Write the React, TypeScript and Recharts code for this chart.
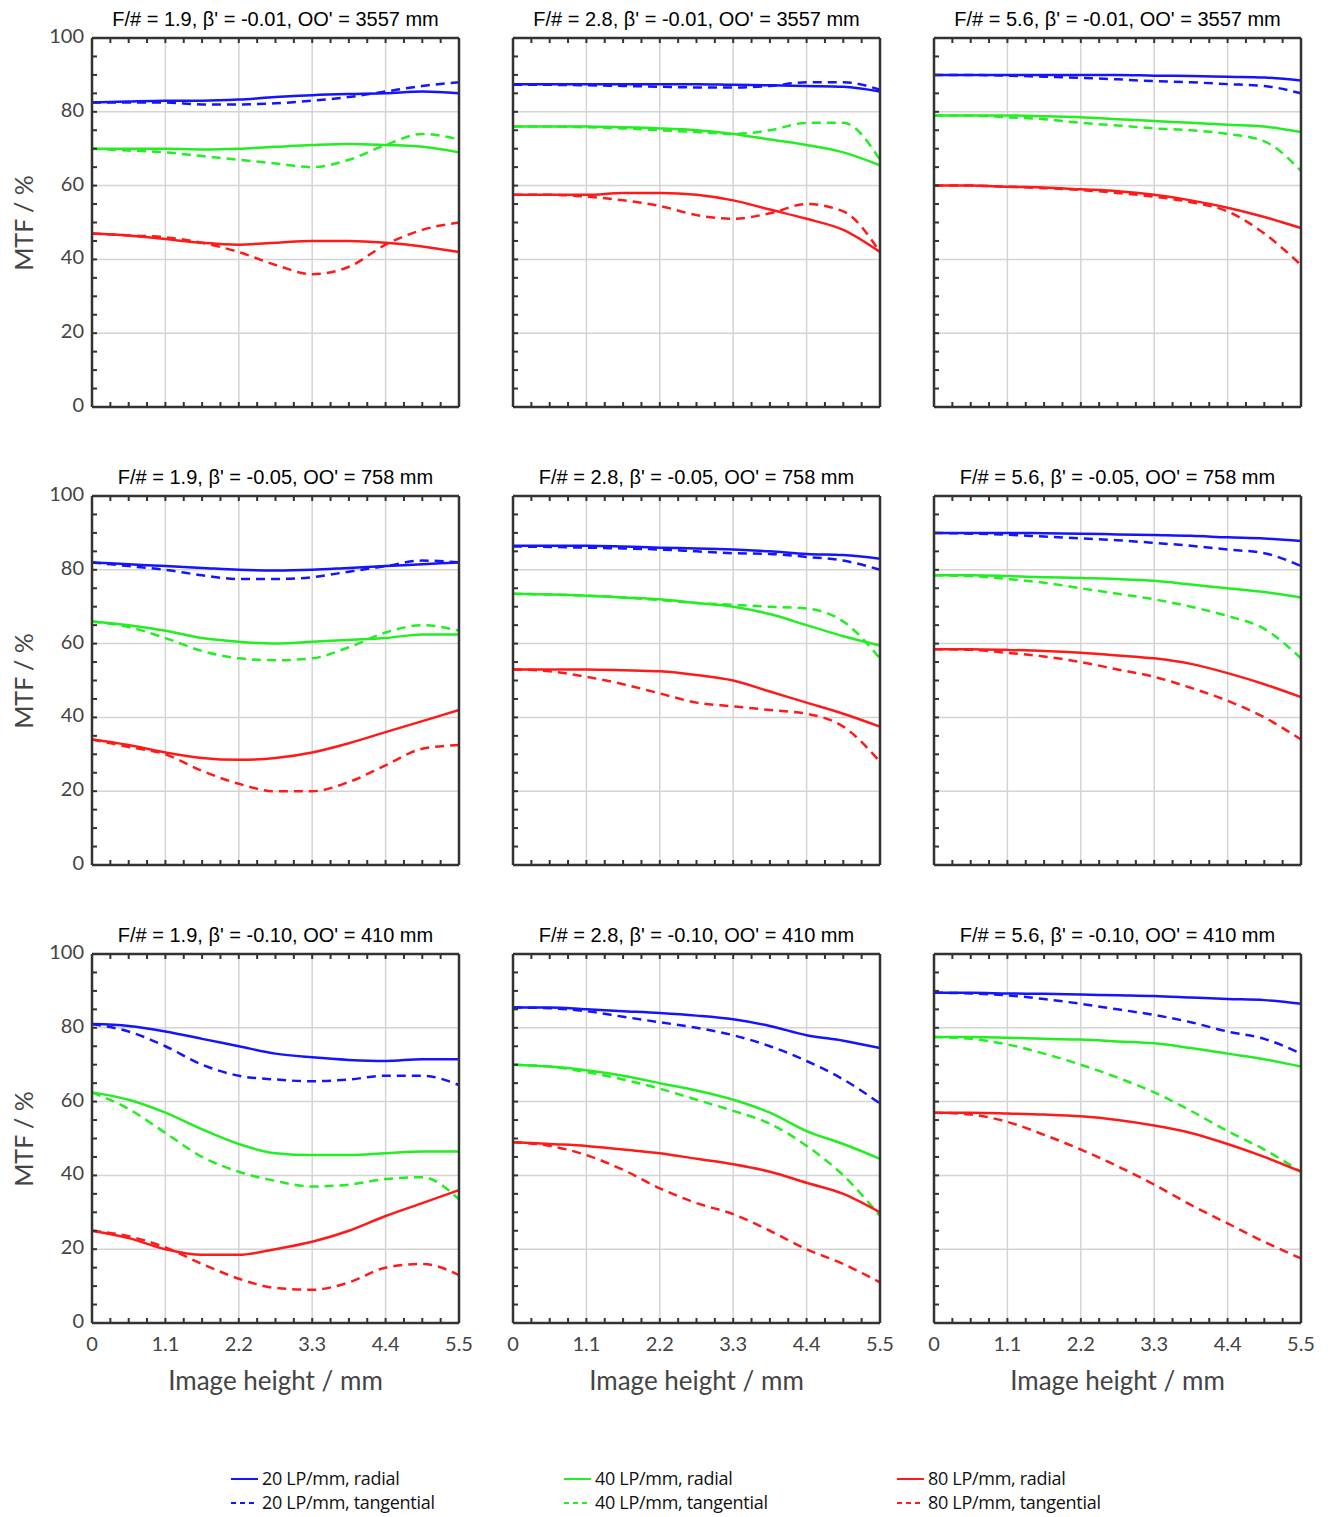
import React from "react";
import { LineChart, Line, XAxis, YAxis, CartesianGrid } from "recharts";

const xs = [0, 0.55, 1.1, 1.65, 2.2, 2.75, 3.3, 3.85, 4.4, 4.95, 5.5];
const xMajor = ["0", "1.1", "2.2", "3.3", "4.4", "5.5"];
const yMajor = ["0", "20", "40", "60", "80", "100"];
const titles = [
  "F/# = 1.9, β' = -0.01, OO' = 3557 mm", "F/# = 2.8, β' = -0.01, OO' = 3557 mm", "F/# = 5.6, β' = -0.01, OO' = 3557 mm",
  "F/# = 1.9, β' = -0.05, OO' = 758 mm", "F/# = 2.8, β' = -0.05, OO' = 758 mm", "F/# = 5.6, β' = -0.05, OO' = 758 mm",
  "F/# = 1.9, β' = -0.10, OO' = 410 mm", "F/# = 2.8, β' = -0.10, OO' = 410 mm", "F/# = 5.6, β' = -0.10, OO' = 410 mm",
];
const seriesNames = ["20 LP/mm, radial", "20 LP/mm, tangential", "40 LP/mm, radial", "40 LP/mm, tangential", "80 LP/mm, radial", "80 LP/mm, tangential"];

// each panel: [blue radial, blue tang, green radial, green tang, red radial, red tang]
const p19_001 = [
  [82.5, 82.8, 83, 83, 83.3, 84, 84.5, 84.8, 85, 85.5, 85],
  [82.5, 82.5, 82.5, 82, 82, 82.3, 83, 84, 85.5, 87, 88],
  [70, 70, 70, 69.8, 70, 70.5, 71, 71.3, 71, 70.5, 69],
  [70, 69.5, 69, 68, 67, 66, 65, 67, 71, 74, 72.5],
  [47, 46.5, 45.5, 44.5, 44, 44.5, 45, 45, 44.5, 43.5, 42],
  [47, 46.5, 46, 44.5, 42, 38.5, 36, 38, 44, 48, 50],
];
const p28_001 = [
  [87.5, 87.5, 87.5, 87.5, 87.5, 87.5, 87.3, 87.2, 87, 86.8, 85.5],
  [87.3, 87.3, 87.2, 87, 86.8, 86.6, 86.6, 87, 88, 88, 86],
  [76, 76, 76, 75.8, 75.5, 75, 74, 72.5, 71, 69, 65.5],
  [76, 76, 75.8, 75.5, 75, 74.5, 74, 75, 77, 77, 67],
  [57.5, 57.5, 57.5, 58, 58, 57.5, 56, 53.5, 51, 48, 42],
  [57.5, 57.5, 57, 56, 54.5, 52, 51, 52.5, 55, 53, 42],
];
const p56_001 = [
  [90, 90, 90, 90, 90, 90, 89.8, 89.7, 89.5, 89.3, 88.5],
  [90, 90, 89.8, 89.5, 89.2, 88.8, 88.3, 88, 87.5, 87, 85],
  [79, 79, 79, 78.8, 78.5, 78, 77.5, 77, 76.5, 76, 74.5],
  [79, 79, 78.5, 78, 77, 76.3, 75.5, 75, 74, 72, 64],
  [60, 60, 59.7, 59.5, 59, 58.5, 57.5, 56, 54, 51.5, 48.5],
  [60, 60, 59.7, 59.3, 58.8, 58, 57, 55.5, 53, 47, 38.5],
];
const p19_005 = [
  [82, 81.5, 81, 80.5, 80, 79.8, 80, 80.5, 81, 81.5, 82],
  [82, 81, 80, 78.5, 77.5, 77.5, 78, 79.5, 81, 82.5, 82],
  [66, 65, 63.5, 61.5, 60.5, 60, 60.5, 61, 61.5, 62.5, 62.5],
  [66, 64.5, 61.5, 58, 56, 55.5, 56, 59, 63, 65, 63.5],
  [34, 32.5, 30.5, 29, 28.5, 29, 30.5, 33, 36, 39, 42],
  [34, 32, 30, 25.5, 22, 20, 20, 22.5, 27, 31.5, 32.5],
];
const p28_005 = [
  [86.5, 86.5, 86.5, 86.3, 86, 85.8, 85.5, 85, 84.3, 84, 83],
  [86.3, 86.2, 86, 85.8, 85.5, 85, 84.5, 84.3, 83.5, 82.5, 80],
  [73.5, 73.3, 73, 72.5, 72, 71, 70, 68, 65, 62, 59.5],
  [73.5, 73.3, 73, 72.5, 71.8, 71, 70.5, 70, 69.5, 66, 56],
  [53, 53, 53, 52.8, 52.5, 51.5, 50, 47, 44, 41, 37.5],
  [53, 52.5, 51, 49, 46.5, 44, 43, 42, 41, 37.5, 28],
];
const p56_005 = [
  [90, 90, 90, 89.9, 89.8, 89.6, 89.4, 89.2, 88.8, 88.5, 87.8],
  [90, 89.8, 89.5, 89, 88.5, 88, 87.3, 86.5, 85.5, 84.5, 81],
  [78.5, 78.5, 78.3, 78, 77.8, 77.5, 77, 76, 75, 74, 72.5],
  [78.5, 78.3, 77.5, 76.5, 75, 73.5, 72, 70, 67.5, 64, 56],
  [58.5, 58.5, 58.3, 58, 57.5, 56.8, 56, 54.5, 52, 49, 45.5],
  [58.5, 58.3, 57.5, 56.5, 55, 53, 51, 48, 44.5, 40, 34],
];
const p19_010 = [
  [81, 80.5, 79, 77, 75, 73, 72, 71.3, 71, 71.5, 71.5],
  [81, 79, 75, 70, 67, 66, 65.5, 66, 67, 67, 64.5],
  [62.5, 60.5, 57, 52.5, 48.5, 46, 45.5, 45.5, 46, 46.5, 46.5],
  [62.5, 58, 51.5, 45, 41, 38.5, 37, 37.5, 39, 39.5, 33.5],
  [25, 23, 20, 18.5, 18.5, 20, 22, 25, 29, 32.5, 36],
  [25, 23.5, 20.5, 16, 12, 9.5, 9, 11, 15, 16, 13],
];
const p28_010 = [
  [85.5, 85.5, 85, 84.5, 84, 83.3, 82.3, 80.5, 78, 76.5, 74.5],
  [85.5, 85.3, 84.5, 83, 81.5, 80, 78, 75, 71, 66, 59.5],
  [70, 69.5, 68.5, 67, 65, 63, 60.5, 57, 52, 48.5, 44.5],
  [70, 69.5, 68, 66, 63.5, 60.5, 57.5, 54, 48, 40, 29],
  [49, 48.5, 48, 47, 46, 44.5, 43, 41, 38, 35, 30],
  [49, 48, 45.5, 41.5, 36.5, 32.5, 29.5, 25, 20, 16, 11],
];
const p56_010 = [
  [89.5, 89.5, 89.3, 89.2, 89, 88.8, 88.6, 88.2, 87.8, 87.5, 86.5],
  [89.5, 89.3, 88.8, 87.8, 86.5, 85, 83.5, 81.5, 79, 77, 73],
  [77.5, 77.5, 77.3, 77, 76.8, 76.3, 75.8, 74.5, 73, 71.5, 69.5],
  [77.5, 77, 75.5, 73, 70, 66.5, 62.5, 57.5, 52, 47, 41],
  [57, 57, 56.8, 56.5, 56, 55, 53.5, 51.5, 48.5, 45, 41],
  [57, 56.5, 54.5, 51, 47, 42.5, 37.5, 32, 27, 22, 17.5],
];
const panels = [p19_001, p28_001, p56_001, p19_005, p28_005, p56_005, p19_010, p28_010, p56_010];

const colors = ["#1414ff", "#1414ff", "#22ee22", "#22ee22", "#ff1a1a", "#ff1a1a"];
const xMinor = Array.from({ length: 21 }, (_, i) => i * 0.275);
const yMinor = Array.from({ length: 21 }, (_, i) => i * 5);

const PLOT_W = 369, PLOT_H = 371;
const M = { top: 30, right: 30, bottom: 80, left: 70 };
const colX = [91, 512, 933];
const rowY = [37, 495, 953];
const LABEL = { fontFamily: "Lato, 'Open Sans', sans-serif", fill: "#444", fontSize: 20 };
const TICK = "#333";
const AXLINE = { stroke: TICK, strokeWidth: 2.5 };

const tickX = (side: "bottom" | "top", labels: boolean) => (p: any) => {
  const { x, y, index } = p;
  const d = side === "bottom" ? -5 : 5;
  return (
    <g>
      {index > 0 && index < 20 && <line x1={x} y1={y} x2={x} y2={y + d} stroke={TICK} strokeWidth={2} />}
      {labels && index % 4 === 0 && (
        <text x={x} y={y + 28} textAnchor="middle" {...LABEL}>{xMajor[index / 4]}</text>
      )}
    </g>
  );
};
const tickY = (side: "left" | "right", labels: boolean) => (p: any) => {
  const { x, y, index } = p;
  const d = side === "left" ? 5 : -5;
  return (
    <g>
      {index > 0 && index < 20 && <line x1={x} y1={y} x2={x + d} y2={y} stroke={TICK} strokeWidth={2} />}
      {labels && index % 4 === 0 && (
        <text x={x - 8} y={y + 5} textAnchor="end" {...LABEL}>{yMajor[index / 4]}</text>
      )}
    </g>
  );
};

function Panel({ idx }: { idx: number }) {
  const col = idx % 3, row = Math.floor(idx / 3);
  const series = panels[idx];
  const data = xs.map((x, i) => {
    const o: any = { x };
    series.forEach((s, k) => (o["s" + k] = s[i]));
    return o;
  });
  const left = colX[col] - M.left - 8, top = rowY[row] - M.top - 8;
  return (
    <div style={{ position: "absolute", left, top }}>
      <div style={{ position: "absolute", left: M.left - 10, top: M.top - 29, width: PLOT_W + 20, textAlign: "center", fontFamily: "'Liberation Sans', Arial, sans-serif", fontSize: 20, color: "#000", whiteSpace: "nowrap" }}>
        {titles[idx]}
      </div>
      <LineChart width={PLOT_W + M.left + M.right} height={PLOT_H + M.top + M.bottom} data={data} margin={M} style={{ overflow: "visible" }}>
        <CartesianGrid stroke="#d4d4d4" strokeWidth={1.5} horizontalValues={[20, 40, 60, 80]} verticalValues={[1.1, 2.2, 3.3, 4.4]} />
        <XAxis dataKey="x" type="number" domain={[0, 5.5]} ticks={xMinor} interval={0} height={1} tickSize={0} tickMargin={0} tickLine={false}
          axisLine={AXLINE} tick={tickX("bottom", row === 2)} />
        <XAxis xAxisId="top" orientation="top" dataKey="x" type="number" domain={[0, 5.5]} ticks={xMinor} interval={0} height={1} tickSize={0} tickMargin={0} tickLine={false}
          axisLine={AXLINE} tick={tickX("top", false)} />
        <YAxis type="number" domain={[0, 100]} ticks={yMinor} interval={0} width={1} tickSize={0} tickMargin={0} tickLine={false}
          axisLine={AXLINE} tick={tickY("left", col === 0)} />
        <YAxis yAxisId="right" orientation="right" type="number" domain={[0, 100]} ticks={yMinor} interval={0} width={1} tickSize={0} tickMargin={0} tickLine={false}
          axisLine={AXLINE} tick={tickY("right", false)} />
        {series.map((_, k) => (
          <Line key={k} dataKey={"s" + k} type="monotone" stroke={colors[k]} strokeWidth={2.5} dot={false}
            strokeDasharray={k % 2 ? "9 6" : undefined} isAnimationActive={false} />
        ))}
      </LineChart>
      {col === 0 && (
        <div style={{ position: "absolute", left: -14, top: M.top + PLOT_H / 2, transform: "translate(-50%,-50%) rotate(-90deg)", transformOrigin: "center", marginLeft: 16, fontFamily: "Lato, sans-serif", fontSize: 25, color: "#444", whiteSpace: "nowrap" }}>
          MTF / %
        </div>
      )}
      {row === 2 && (
        <div style={{ position: "absolute", left: M.left, top: M.top + PLOT_H + 40, width: PLOT_W, textAlign: "center", fontFamily: "Lato, sans-serif", fontSize: 26, color: "#444" }}>
          Image height / mm
        </div>
      )}
    </div>
  );
}

const legendX = [230, 563, 896];

export default function App() {
  return (
    <div style={{ position: "relative", width: 1315, height: 1509, background: "#fff" }}>
      {panels.map((_, i) => <Panel key={i} idx={i} />)}
      {seriesNames.map((name, k) => (
        <div key={k} style={{ position: "absolute", left: legendX[Math.floor(k / 2)] - 8, top: 1468 + (k % 2) * 24 - 8, display: "flex", alignItems: "center", fontFamily: "'Open Sans', sans-serif", fontSize: 18, lineHeight: "20px", color: "#111", whiteSpace: "nowrap", letterSpacing: -0.3 }}>
          <svg width={32} height={20}><line x1={1} y1={11} x2={28} y2={11} stroke={colors[k]} strokeWidth={2} strokeDasharray={k % 2 ? "5 4" : undefined} /></svg>
          {name}
        </div>
      ))}
    </div>
  );
}
